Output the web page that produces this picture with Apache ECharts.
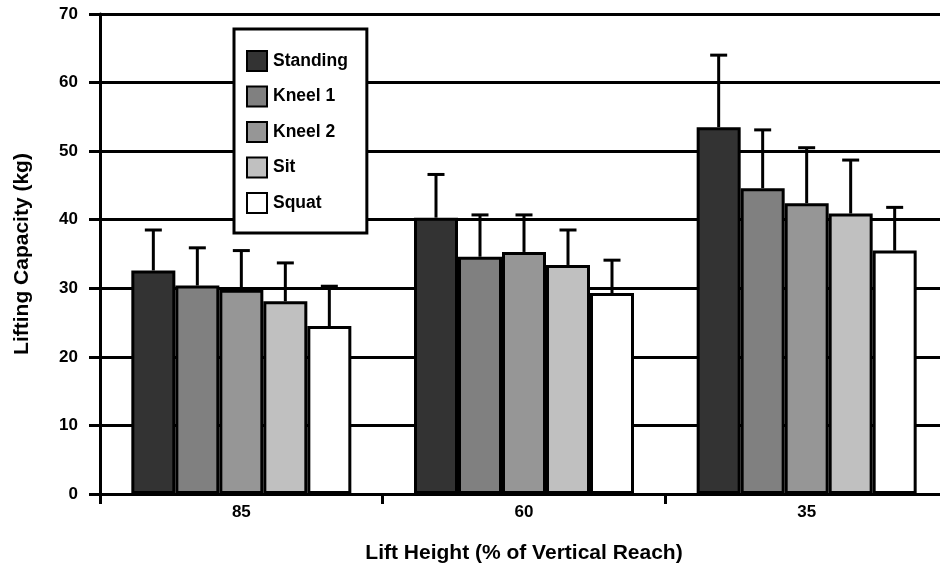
<!DOCTYPE html>
<html>
<head>
<meta charset="utf-8">
<script src="https://cdn.jsdelivr.net/npm/echarts@6/dist/echarts.min.js"></script>
<style>html,body{margin:0;padding:0;background:#fff}#c{width:940px;height:571px}</style>
</head>
<body>
<div id="c"></div>
<script>
var categories = ['85', '60', '35'];
var seriesNames = ['Standing', 'Kneel 1', 'Kneel 2', 'Sit', 'Squat'];
var standing = [32.6, 40.3, 53.5];
var kneel1 = [30.4, 34.6, 44.6];
var kneel2 = [29.8, 35.3, 42.4];
var sit = [28.1, 33.4, 40.9];
var squat = [24.5, 29.3, 35.5];
// upper end of error bars (mean + SD)
var standingErr = [38.5, 46.6, 64.0];
var kneel1Err = [35.9, 40.7, 53.1];
var kneel2Err = [35.5, 40.7, 50.5];
var sitErr = [33.7, 38.5, 48.7];
var squatErr = [30.3, 34.1, 41.8];
var yTicks = [0, 10, 20, 30, 40, 50, 60, 70];

var colors = ['#333333', '#808080', '#969696', '#c0c0c0', '#ffffff'];
var means = [standing, kneel1, kneel2, sit, squat];
var errs = [standingErr, kneel1Err, kneel2Err, sitErr, squatErr];
var BAR_W = 44;
var FONT = 'Liberation Sans, Arial, sans-serif';

var series = [];
seriesNames.forEach(function (name, i) {
  series.push({
    name: name,
    type: 'bar',
    barWidth: BAR_W,
    barGap: '0%',
    data: means[i],
    itemStyle: { color: colors[i], borderColor: '#000', borderWidth: 3 },
    z: 3
  });
});
var errData = [];
seriesNames.forEach(function (name, s) {
  categories.forEach(function (c, k) {
    errData.push([k, means[s][k], errs[s][k], s]);
  });
});
series.push({
  type: 'custom',
  data: errData,
  z: 2,
  silent: true,
  renderItem: function (params, api) {
    var k = api.value(0), lo = api.value(1), hi = api.value(2), s = api.value(3);
    var p0 = api.coord([k, lo]);
    var p1 = api.coord([k, hi]);
    var x = p0[0] + (s - 2) * BAR_W;
    var half = 8.5;
    var st = { stroke: '#000', lineWidth: 3, fill: null };
    return {
      type: 'group',
      children: [
        { type: 'line', shape: { x1: x, y1: p0[1], x2: x, y2: p1[1] }, style: st },
        { type: 'line', shape: { x1: x - half, y1: p1[1], x2: x + half, y2: p1[1] }, style: st }
      ]
    };
  }
});

var chart = echarts.init(document.getElementById('c'), null, { renderer: 'canvas' });
chart.setOption({
  animation: false,
  backgroundColor: '#fff',
  textStyle: { fontFamily: FONT },
  grid: { left: 100, top: 14, bottom: 77, width: 848, outerBoundsMode: 'none', containLabel: false },
  legend: {
    data: seriesNames,
    icon: 'rect',
    orient: 'vertical',
    left: 234,
    top: 29,
    padding: [21, 19, 19, 12],
    itemGap: 13.5,
    itemWidth: 20,
    itemHeight: 20,
    borderColor: '#000',
    borderWidth: 3,
    backgroundColor: '#fff',
    textStyle: { fontFamily: FONT, fontWeight: 'bold', fontSize: 17.5, color: '#000', padding: [0, 0, 0, 1] }
  },
  xAxis: {
    type: 'category',
    data: categories,
    name: 'Lift Height (% of Vertical Reach)',
    nameLocation: 'middle',
    nameGap: 49,
    nameTextStyle: { fontFamily: FONT, fontWeight: 'bold', fontSize: 21, color: '#000' },
    axisLine: { lineStyle: { color: '#000', width: 3 } },
    axisTick: { show: true, length: 10, lineStyle: { color: '#000', width: 3 } },
    axisLabel: { margin: 10, fontFamily: FONT, fontWeight: 'bold', fontSize: 17, color: '#000' },
    splitLine: { show: false }
  },
  yAxis: {
    type: 'value',
    min: yTicks[0],
    max: yTicks[yTicks.length - 1],
    interval: 10,
    name: 'Lifting Capacity (kg)',
    nameLocation: 'middle',
    nameGap: 67,
    nameTextStyle: { fontFamily: FONT, fontWeight: 'bold', fontSize: 21, color: '#000' },
    axisLine: { show: true, lineStyle: { color: '#000', width: 3 } },
    axisTick: { show: true, length: 11, lineStyle: { color: '#000', width: 3 } },
    axisLabel: { margin: 22, fontFamily: FONT, fontWeight: 'bold', fontSize: 17, color: '#000' },
    splitLine: { show: true, lineStyle: { color: '#000', width: 3 } }
  },
  series: series
});
</script>
</body>
</html>
